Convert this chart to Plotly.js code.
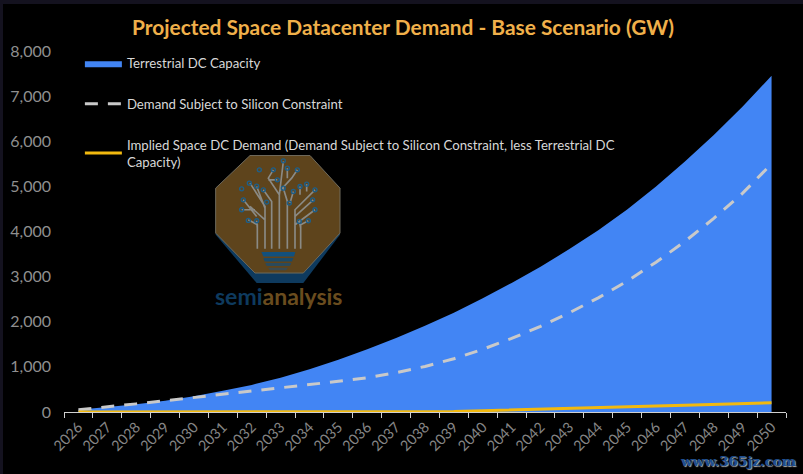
<!DOCTYPE html>
<html>
<head>
<meta charset="utf-8">
<script src="https://cdn.plot.ly/plotly-3.0.1.min.js"></script>
<style>
  html, body { margin: 0; padding: 0; background: #14121f; overflow: hidden; }
  #chart { position: absolute; left: 3px; top: 4px; width: 800px; height: 470px; }
</style>
</head>
<body>
<div id="chart"></div>
<script>
let years = ['2026','2027','2028','2029','2030','2031','2032','2033','2034','2035','2036','2037',
  '2038','2039','2040','2041','2042','2043','2044','2045','2046','2047','2048','2049','2050'];

let terrestrial = [50,110,170,250,350,470,600,760,950,1160,1390,1640,
  1910,2200,2520,2860,3220,3610,4030,4490,5000,5550,6140,6770,7450];
let siliconDemand = [50,110,180,250,320,400,470,540,610,680,760,870,
  1010,1180,1390,1630,1900,2200,2530,2900,3320,3780,4290,4850,5500];
let spaceDemand = [0,0,0,0,0,0,0,0,0,0,0,0,
  0,10,30,50,65,80,100,120,135,150,170,185,205];

let yTicks = [0,1000,2000,3000,4000,5000,6000,7000,8000];
let yLabels = ['0','1,000','2,000','3,000','4,000','5,000','6,000','7,000','8,000'];

let fontName = 'Lato, "Noto Sans", sans-serif';

// logo drawn in the coordinates of a 480x510 box
let logoSvg = `<svg xmlns="http://www.w3.org/2000/svg" viewBox="0 0 480 510" width="480" height="510">
<path d="M47 165 L47 270 L170 415 L310 415 L420 270 L420 165 Z" fill="#0e3a5e"/>
<path d="M150 32 L330 32 L420 130 L420 265 L310 385 L165 385 L47 265 L47 130 Z" fill="#5e441c" stroke="#6f6a5c" stroke-width="3" stroke-linejoin="round"/>
<g fill="none" stroke="#8a8a85" stroke-width="5">
<path d="M172 312V240L145 225M172 250L170 228M195 312V185L150 115M195 190L170 125M215 312V170L190 135M238 312V150L205 100L220 75M238 150L250 50M238 140L275 100L292 75M262 100V70M205 105H232M262 312V170L250 130M285 312V195L345 135M285 215L340 165M285 240L345 195M302 312V240L325 228M302 250L298 230M270 175L280 140M300 150V125M320 140V118M150 185L195 225M130 165L170 215M125 195H165"/>
</g>
<g fill="none" stroke="#1d5f8a" stroke-width="4">
<circle cx="250" cy="48" r="6"/><circle cx="178" cy="75" r="6"/><circle cx="220" cy="75" r="6"/><circle cx="262" cy="70" r="6"/><circle cx="292" cy="75" r="6"/>
<circle cx="232" cy="105" r="6"/><circle cx="125" cy="132" r="6"/><circle cx="148" cy="115" r="6"/><circle cx="170" cy="124" r="6"/><circle cx="190" cy="135" r="6"/>
<circle cx="250" cy="130" r="6"/><circle cx="280" cy="140" r="6"/><circle cx="300" cy="125" r="6"/><circle cx="320" cy="118" r="6"/><circle cx="345" cy="135" r="6"/>
<circle cx="130" cy="165" r="6"/><circle cx="125" cy="195" r="6"/><circle cx="200" cy="172" r="6"/><circle cx="268" cy="175" r="6"/><circle cx="338" cy="165" r="6"/>
<circle cx="345" cy="195" r="6"/><circle cx="145" cy="227" r="6"/><circle cx="170" cy="228" r="6"/><circle cx="298" cy="230" r="6"/><circle cx="325" cy="228" r="6"/>
</g>
<path d="M184 322H286L282 335H190Z" fill="#12507c"/>
<path d="M190 340H280L276 350H194Z" fill="#1b4a68"/>
<path d="M196 355H274L270 364H200Z" fill="#2a4a5c"/>
<path d="M204 369H264L258 377H210Z" fill="#3a4a50"/>
</svg>`;

let traces = [
  {
    x: years, y: terrestrial, name: 'Terrestrial DC Capacity', type: 'scatter', mode: 'lines',
    fill: 'tozeroy', fillcolor: '#4285F4', line: { color: '#4285F4', width: 0 }, legendgroup: 'a'
  },
  {
    x: years, y: siliconDemand, name: 'Demand Subject to Silicon Constraint', type: 'scatter', mode: 'lines',
    line: { color: '#c9c9c9', width: 3, dash: '13px,10px' }, legendgroup: 'b'
  },
  {
    x: years, y: spaceDemand,
    name: 'Implied Space DC Demand (Demand Subject to Silicon Constraint, less Terrestrial DC<br>Capacity)',
    type: 'scatter', mode: 'lines', cliponaxis: false,
    line: { color: '#F2B90F', width: 3 }, legendgroup: 'c'
  }
];

let layout = {
  width: 800,
  height: 470,
  margin: { l: 61, r: 17, t: 47, b: 61.5 },
  paper_bgcolor: '#000000',
  plot_bgcolor: '#000000',
  font: { family: fontName, color: '#8f8f8f' },
  title: {
    text: '<b>Projected Space Datacenter Demand - Base Scenario (GW)</b>',
    font: { family: fontName, size: 20.9, color: '#F0B04A' },
    x: 0.4695, xref: 'paper', xanchor: 'center', y: 0.95, yanchor: 'middle'
  },
  xaxis: {
    type: 'category',
    range: [-0.5, 24.5],
    tickson: 'boundaries',
    ticks: 'outside', ticklen: 5, tickcolor: '#d0d0d0', tickwidth: 1,
    showline: true, linecolor: '#d0d0d0', linewidth: 1,
    showgrid: false, zeroline: false,
    tickangle: -45,
    tickfont: { family: fontName, size: 14.5, color: '#858585' }
  },
  yaxis: {
    range: [0, 8000],
    tickvals: yTicks, ticktext: yLabels,
    showgrid: false, zeroline: false, showline: false, ticks: '',
    ticklabelstandoff: 12,
    tickfont: { family: fontName, size: 16, color: '#8f8f8f' }
  },
  showlegend: true,
  legend: {
    x: 0.022, y: 1.008, xanchor: 'left', yanchor: 'top',
    bgcolor: 'rgba(0,0,0,0)',
    font: { family: fontName, size: 13.2, color: '#d8d8d8' },
    itemwidth: 37,
    tracegroupgap: 20.5,
    traceorder: 'grouped'
  },
  images: [{
    source: 'data:image/svg+xml;charset=utf-8,' + encodeURIComponent(logoSvg),
    xref: 'paper', yref: 'paper',
    x: 136 / 722, y: (408.5 - 141) / 361.5,
    sizex: 160 / 722, sizey: 170 / 361.5,
    xanchor: 'left', yanchor: 'top', sizing: 'stretch', layer: 'above'
  }],
  annotations: [
    {
      text: '<b><span style="color:#0e3a5e">semi</span><span style="color:#6a4c1e">analysis</span></b>',
      xref: 'paper', yref: 'paper', x: 214 / 722, y: (408.5 - 292) / 361.5,
      xanchor: 'center', yanchor: 'middle', showarrow: false,
      font: { family: fontName, size: 23 }
    },
    {
      text: '<b>www.365jz.com</b>',
      xref: 'paper', yref: 'paper', x: 1.017, y: -0.135,
      xanchor: 'right', yanchor: 'middle', showarrow: false,
      font: { family: '"DejaVu Serif", serif', size: 13.5, color: '#1f4f8f', shadow: '1px 1px 1px #b0b0b0' }
    }
  ]
};

Plotly.newPlot('chart', traces, layout, { displayModeBar: false, responsive: false });
</script>
</body>
</html>
